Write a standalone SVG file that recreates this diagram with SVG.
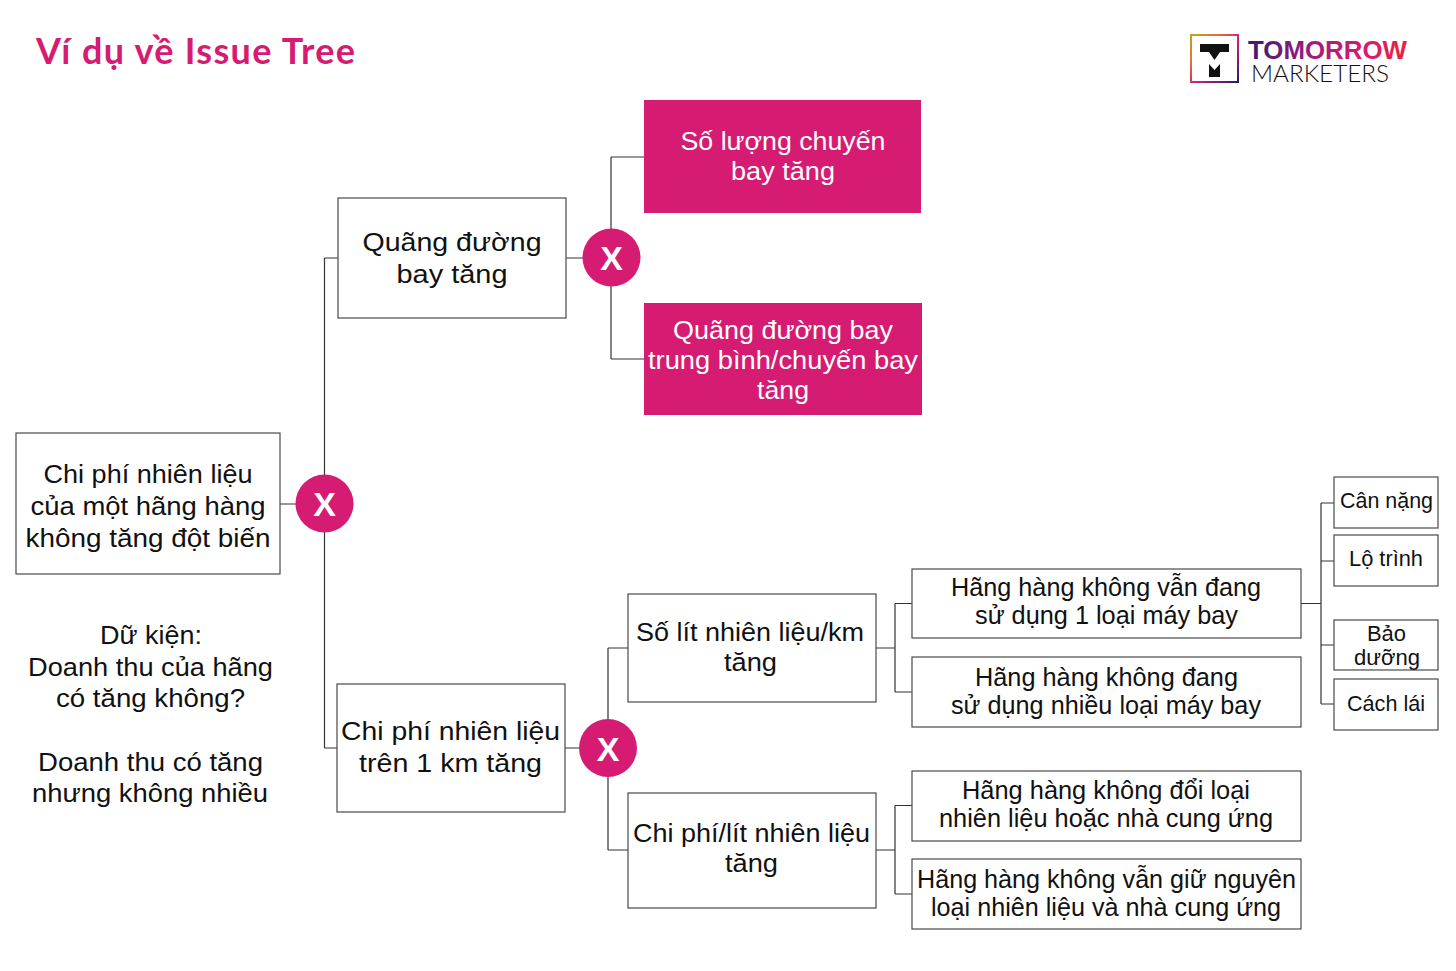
<svg xmlns="http://www.w3.org/2000/svg" width="1456" height="971" viewBox="0 0 1456 971">
<style>
.b{fill:#fff;stroke:#4a4a4a;stroke-width:1.2}
.p{fill:#d51c72}
.c{fill:none;stroke:#333;stroke-width:1.2}
text{font-family:"Liberation Sans",Arial,sans-serif;text-anchor:middle;fill:#111}
.l{font-size:26.500px}
.m{font-size:25.500px}
.n{font-size:25px}
.s{font-size:21.500px}
.w{fill:#fff;font-size:26px}
.x{fill:#fff;font-size:34px;font-weight:700}
</style>
<defs>
<linearGradient id="g1" x1="0" y1="0" x2="1" y2="0"><stop offset="0" stop-color="#3b1a6e"/><stop offset=".4" stop-color="#a01c80"/><stop offset=".75" stop-color="#d81b72"/><stop offset="1" stop-color="#e8203f"/></linearGradient>
<linearGradient id="g2" x1="0" y1="0" x2="1" y2="1"><stop offset="0" stop-color="#c9a01e"/><stop offset=".3" stop-color="#e0703a"/><stop offset=".55" stop-color="#d81b72"/><stop offset="1" stop-color="#2a1a6e"/></linearGradient>
</defs>
<rect width="1456" height="971" fill="#fff"/>
<text id="title" x="36" y="64" style="font-family:Lato,sans-serif;font-size:36px;font-weight:700;text-anchor:start;fill:#d51c72" textLength="319" lengthAdjust="spacing">Ví dụ về Issue Tree</text>
<g id="logo">
<rect x="1191" y="35" width="47" height="47" fill="none" stroke="url(#g2)" stroke-width="2"/>
<path d="M1200 44h29v8h-9l-5.500 8-5.500-8h-9z" fill="#111"/>
<path d="M1209 64l5.500 6 5.500-6v13h-11z" fill="#111"/>
<text x="1248" y="59" style="font-size:25px;font-weight:700;text-anchor:start;fill:url(#g1)" textLength="159" lengthAdjust="spacingAndGlyphs">TOMORROW</text>
<text x="1251" y="82" style="font-family:Lato,sans-serif;font-weight:300;font-size:24px;text-anchor:start" textLength="138" lengthAdjust="spacingAndGlyphs">MARKETERS</text>
</g>
<g id="connectors">
<path class="c" d="M280 504H296M324.500 258V475M324.500 532V748M324.500 258H338M324.500 748H337"/>
<path class="c" d="M566 258H583M611 157V229M611 286V359M611 157H644M611 359H644"/>
<path class="c" d="M565 748H580M608 648V719M608 777V850M608 648H628M608 850H628"/>
<path class="c" d="M876 648H895M895 603.500V692M895 603.500H912M895 692H912"/>
<path class="c" d="M876 850H895M895 805.500V894M895 805.500H912M895 894H912"/>
<path class="c" d="M1301 603.500H1321M1321 503V704M1321 503H1334M1321 561H1334M1321 645H1334M1321 704H1334"/>
</g>
<g id="root"><rect class="b" x="16" y="433" width="264" height="141"/><text class="l" x="148" y="483" textLength="209" lengthAdjust="spacingAndGlyphs">Chi phí nhiên liệu</text><text class="l" x="148" y="515" textLength="235" lengthAdjust="spacingAndGlyphs">của một hãng hàng</text><text class="l" x="148" y="547" textLength="245" lengthAdjust="spacingAndGlyphs">không tăng đột biến</text></g>
<g id="x1"><circle class="p" cx="324.500" cy="503.500" r="29"/><text class="x" x="324.500" y="516">X</text></g>
<g id="a1"><rect class="b" x="338" y="198" width="228" height="120"/><text class="l" x="452" y="251" textLength="179" lengthAdjust="spacingAndGlyphs">Quãng đường</text><text class="l" x="452" y="283" textLength="111" lengthAdjust="spacingAndGlyphs">bay tăng</text></g>
<g id="x2"><circle class="p" cx="611.500" cy="257.500" r="29"/><text class="x" x="611.500" y="270">X</text></g>
<g id="a1a"><rect class="p" x="644" y="100" width="277" height="113"/><text class="w" x="783" y="150" textLength="205" lengthAdjust="spacingAndGlyphs">Số lượng chuyến</text><text class="w" x="783" y="180" textLength="104" lengthAdjust="spacingAndGlyphs">bay tăng</text></g>
<g id="a1b"><rect class="p" x="644" y="303" width="278" height="112"/><text class="w" x="783" y="339" textLength="220" lengthAdjust="spacingAndGlyphs">Quãng đường bay</text><text class="w" x="783" y="369" textLength="270" lengthAdjust="spacingAndGlyphs">trung bình/chuyến bay</text><text class="w" x="783" y="399" textLength="52" lengthAdjust="spacingAndGlyphs">tăng</text></g>
<g id="a2"><rect class="b" x="337" y="684" width="228" height="128"/><text class="l" x="450.500" y="740" textLength="219" lengthAdjust="spacingAndGlyphs">Chi phí nhiên liệu</text><text class="l" x="450.500" y="772" textLength="183" lengthAdjust="spacingAndGlyphs">trên 1 km tăng</text></g>
<g id="x3"><circle class="p" cx="608" cy="748" r="29"/><text class="x" x="608" y="760.500">X</text></g>
<g id="b1"><rect class="b" x="628" y="594" width="248" height="108"/><text class="m" x="750" y="641" textLength="228" lengthAdjust="spacingAndGlyphs">Số lít nhiên liệu/km</text><text class="m" x="750.500" y="671" textLength="53" lengthAdjust="spacingAndGlyphs">tăng</text></g>
<g id="b2"><rect class="b" x="628" y="793" width="248" height="115"/><text class="m" x="751.500" y="842" textLength="237" lengthAdjust="spacingAndGlyphs">Chi phí/lít nhiên liệu</text><text class="m" x="751.500" y="872" textLength="53" lengthAdjust="spacingAndGlyphs">tăng</text></g>
<g id="c1"><rect class="b" x="912" y="569" width="389" height="69"/><text class="n" x="1106" y="596" textLength="310" lengthAdjust="spacingAndGlyphs">Hãng hàng không vẫn đang</text><text class="n" x="1106.500" y="624" textLength="263" lengthAdjust="spacingAndGlyphs">sử dụng 1 loại máy bay</text></g>
<g id="c2"><rect class="b" x="912" y="657" width="389" height="70"/><text class="n" x="1106.500" y="686" textLength="263" lengthAdjust="spacingAndGlyphs">Hãng hàng không đang</text><text class="n" x="1106" y="714" textLength="310" lengthAdjust="spacingAndGlyphs">sử dụng nhiều loại máy bay</text></g>
<g id="c3"><rect class="b" x="912" y="771" width="389" height="70"/><text class="n" x="1106" y="799" textLength="288" lengthAdjust="spacingAndGlyphs">Hãng hàng không đổi loại</text><text class="n" x="1106" y="827" textLength="334" lengthAdjust="spacingAndGlyphs">nhiên liệu hoặc nhà cung ứng</text></g>
<g id="c4"><rect class="b" x="912" y="859" width="389" height="70"/><text class="n" x="1106.500" y="888" textLength="379" lengthAdjust="spacingAndGlyphs">Hãng hàng không vẫn giữ nguyên</text><text class="n" x="1106" y="916" textLength="350" lengthAdjust="spacingAndGlyphs">loại nhiên liệu và nhà cung ứng</text></g>
<g id="d1"><rect class="b" x="1334" y="477" width="104" height="51"/><text class="s" x="1386.500" y="508" textLength="93" lengthAdjust="spacingAndGlyphs">Cân nặng</text></g>
<g id="d2"><rect class="b" x="1334" y="535" width="104" height="51"/><text class="s" x="1386" y="566" textLength="74" lengthAdjust="spacingAndGlyphs">Lộ trình</text></g>
<g id="d3"><rect class="b" x="1334" y="620" width="104" height="50"/><text class="s" x="1386.500" y="641" textLength="39" lengthAdjust="spacingAndGlyphs">Bảo</text><text class="s" x="1387" y="665" textLength="66" lengthAdjust="spacingAndGlyphs">dưỡng</text></g>
<g id="d4"><rect class="b" x="1334" y="679" width="104" height="51"/><text class="s" x="1386" y="711" textLength="78" lengthAdjust="spacingAndGlyphs">Cách lái</text></g>
<g id="note"><text class="l" x="151" y="644" textLength="102" lengthAdjust="spacingAndGlyphs">Dữ kiện:</text><text class="l" x="150.500" y="676" textLength="245" lengthAdjust="spacingAndGlyphs">Doanh thu của hãng</text><text class="l" x="150.500" y="707" textLength="189" lengthAdjust="spacingAndGlyphs">có tăng không?</text><text class="l" x="150.500" y="771" textLength="225" lengthAdjust="spacingAndGlyphs">Doanh thu có tăng</text><text class="l" x="150" y="802" textLength="236" lengthAdjust="spacingAndGlyphs">nhưng không nhiều</text></g>
</svg>
